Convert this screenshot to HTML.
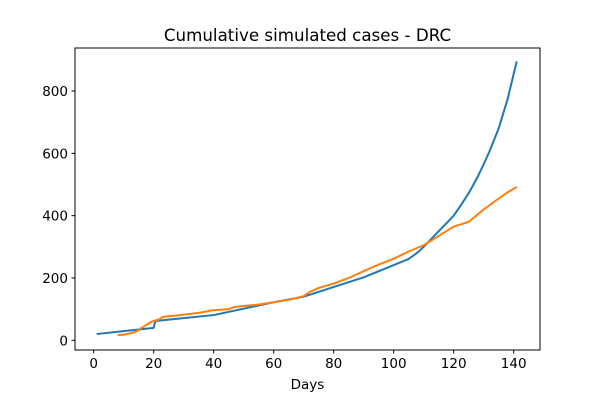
<!DOCTYPE html>
<html><head><meta charset="utf-8"><style>
html,body{margin:0;padding:0;background:#fff;}
svg text{font-family:"DejaVu Sans","Liberation Sans",sans-serif;fill:#000;}
</style></head><body>
<svg id="chart" width="600" height="400" xmlns="http://www.w3.org/2000/svg">
<rect width="600" height="400" fill="#fff"/>
<text x="307.5" y="41" font-size="16.7" text-anchor="middle">Cumulative simulated cases - DRC</text>
<g id="xticks"></g>
<g id="yticks"></g>
<g id="series"></g>
<rect x="75" y="48" width="465" height="302" fill="none" stroke="#000" stroke-width="1"/>
<text x="307.5" y="389" font-size="13.5" text-anchor="middle">Days</text>
</svg>
<script>
const xTicks=[0,20,40,60,80,100,120,140];
const yTicks=[0,200,400,600,800];
const simDays=[1,20,20.5,40,60,70,90,105,108,110,112,115,118,120,122,125,128,130,132,135,138,141];
const simCases=[20,40,62,81,122,140,202,261,282,300,320,350,380,400,428,472,525,565,608,680,775,895];
const obsDays=[8,10,12,14,16,18,19,20,22,23,28,35,40,45,47,50,55,60,65,70,72,75,80,85,90,95,100,105,110,115,120,125,130,135,138,141];
const obsCases=[17,18,22,27,40,52,58,62,68,75,80,88,97,100,107,110,115,122,130,142,155,168,182,200,222,243,262,285,305,335,365,380,420,455,475,492];
const X=d=>93.7+3*d, Y=v=>340.3-0.3116*v;
const NS="http://www.w3.org/2000/svg";
function mk(t,a,p){const e=document.createElementNS(NS,t);for(const k in a)e.setAttribute(k,a[k]);p.appendChild(e);return e;}
const xg=document.getElementById('xticks'),yg=document.getElementById('yticks'),sg=document.getElementById('series');
xTicks.forEach(t=>{
 const l=mk('line',{x1:X(t),x2:X(t),y1:350,y2:353.5,stroke:'#000'},xg);
 
 
 const tx=mk('text',{x:X(t),y:368,'font-size':13.5,'text-anchor':'middle'},xg);tx.textContent=t;
 
 
});
yTicks.forEach(t=>{
 const l=mk('line',{x1:71.5,x2:75,y1:Y(t),y2:Y(t),stroke:'#000'},yg);
 
 
 const tx=mk('text',{x:68,y:Y(t)+5,'font-size':13.5,'text-anchor':'end'},yg);tx.textContent=t;
 
 
});
function line(ds,vs,c,name){
 const p=mk('polyline',{points:ds.map((d,i)=>X(d)+','+Y(vs[i])).join(' '),fill:'none',stroke:c,'stroke-width':2,'stroke-linejoin':'round'},sg);
 
 
}
line(simDays,simCases,'#1f77b4','simulated-cases-line');
line(obsDays,obsCases,'#ff7f0e','observed-cases-line');
</script>
</body></html>
